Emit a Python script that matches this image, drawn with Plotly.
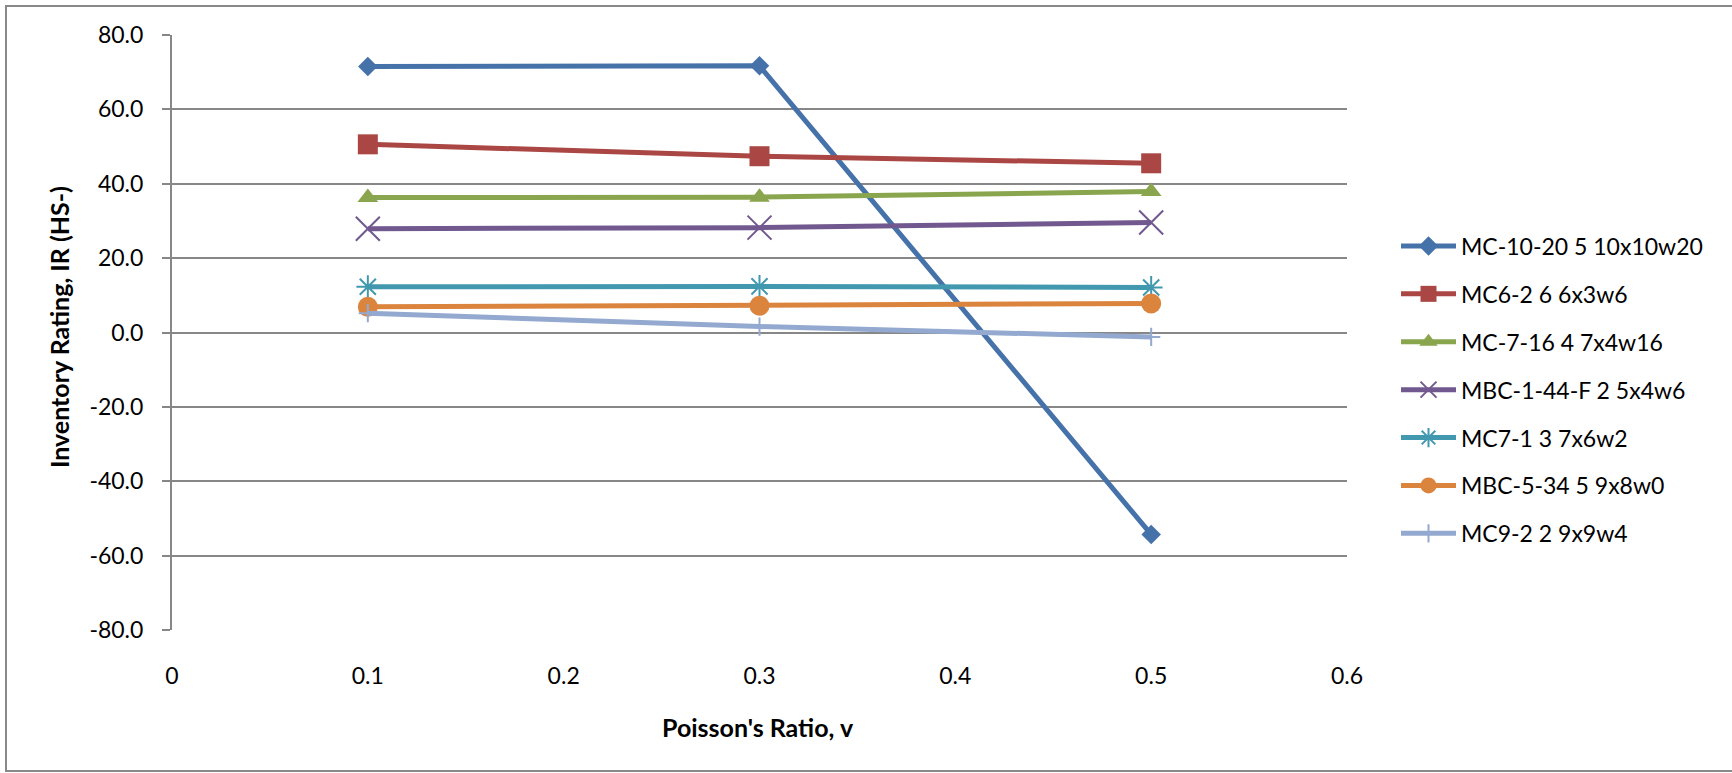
import plotly.graph_objects as go

# ---- data ----
poisson = [0.1, 0.3, 0.5]
series_names = [
    "MC-10-20 5 10x10w20",
    "MC6-2 6 6x3w6",
    "MC-7-16 4 7x4w16",
    "MBC-1-44-F 2 5x4w6",
    "MC7-1 3 7x6w2",
    "MBC-5-34 5 9x8w0",
    "MC9-2 2 9x9w4",
]
mc_10_20 = [71.5, 71.7, -54.3]
mc6_2 = [50.6, 47.4, 45.5]
mc_7_16 = [36.3, 36.4, 37.9]
mbc_1_44_f = [27.9, 28.2, 29.6]
mc7_1 = [12.3, 12.4, 12.1]
mbc_5_34 = [6.9, 7.2, 7.8]
mc9_2 = [5.2, 1.6, -1.2]
series_values = [mc_10_20, mc6_2, mc_7_16, mbc_1_44_f, mc7_1, mbc_5_34, mc9_2]

y_ticks = [-80, -60, -40, -20, 0, 20, 40, 60, 80]
y_tick_labels = ["-80.0", "-60.0", "-40.0", "-20.0", "0.0", "20.0", "40.0", "60.0", "80.0"]
x_ticks = [0, 0.1, 0.2, 0.3, 0.4, 0.5, 0.6]
x_tick_labels = ["0", "0.1", "0.2", "0.3", "0.4", "0.5", "0.6"]

# ---- styles ----
colors = ["#4672AA", "#AA4643", "#89A54E", "#71588F", "#4198AF", "#DB843D", "#93A9CF"]
symbols = ["diamond", "square", "triangle-up", "x-thin-open", "asterisk-open", "circle", "cross-thin-open"]
sizes = [15, 20, 18, 24, 19, 20, 13]

W, H = 1732, 773
L, R, T, B = 172, 1347, 35, 630
FONT = "Lato"
GRID = "#878787"


def px_x(px):
    return (px - L) / (R - L)


def px_y(py):
    return (B - py) / (B - T)


fig = go.Figure()
for name, vals, col, sym, sz in zip(series_names, series_values, colors, symbols, sizes):
    open_sym = sym.endswith("open")
    fig.add_trace(go.Scatter(
        x=poisson, y=vals, name=name, mode="lines+markers",
        legendgroup=name,
        line=dict(color=col, width=5),
        marker=dict(symbol=sym, size=sz, color=col,
                    line=dict(color=col, width=2 if open_sym else 0)),
    ))

fig.update_layout(
    width=W, height=H,
    margin=dict(l=L, r=W - R, t=T, b=H - B),
    paper_bgcolor="white", plot_bgcolor="white",
    font=dict(family=FONT, size=23, color="black"),
    showlegend=True,
    legend=dict(
        x=px_x(1396), xanchor="left", y=px_y(390), yanchor="middle",
        font=dict(family=FONT, size=23, color="black"),
        tracegroupgap=15, traceorder="grouped", itemwidth=55,
        bgcolor="rgba(0,0,0,0)",
    ),
    xaxis=dict(
        range=[0, 0.6], tickvals=x_ticks, ticktext=x_tick_labels,
        showgrid=False, zeroline=False, showline=False, ticks="",
        ticklabelstandoff=30, tickfont=dict(size=23, family=FONT),
    ),
    xaxis2=dict(
        range=[0, 0.6], tickvals=x_ticks, overlaying="x", anchor="free", position=0.5,
        showgrid=False, zeroline=False, showline=True, linecolor=GRID, linewidth=2,
        ticks="outside", ticklen=8, tickwidth=2, tickcolor=GRID, showticklabels=False,
    ),
    yaxis=dict(
        range=[-80, 80], tickvals=y_ticks, ticktext=y_tick_labels,
        showgrid=True, gridcolor=GRID, gridwidth=2, zeroline=False,
        showline=True, linecolor=GRID, linewidth=2,
        ticks="outside", ticklen=8, tickwidth=2, tickcolor=GRID,
        ticklabelstandoff=14, tickfont=dict(size=23, family=FONT),
    ),
    annotations=[
        dict(text="<b>Inventory Rating, IR (HS-)</b>", xref="paper", yref="paper",
             x=px_x(59), y=px_y(327), textangle=-90, showarrow=False,
             xanchor="center", yanchor="middle", font=dict(family=FONT, size=25)),
        dict(text="<b>Poisson's Ratio, v</b>", xref="paper", yref="paper",
             x=px_x(758), y=px_y(727), showarrow=False,
             xanchor="center", yanchor="middle", font=dict(family=FONT, size=25)),
    ],
    shapes=[
        dict(type="rect", xref="paper", yref="paper",
             x0=px_x(6), x1=px_x(1740), y0=px_y(771), y1=px_y(6),
             line=dict(color="#898989", width=2), fillcolor="rgba(0,0,0,0)", layer="below"),
    ],
)

fig.write_html(
    "out.html",
    config={"displayModeBar": False},
    post_script="document.body.style.margin='0';document.body.style.overflow='hidden';",
)
